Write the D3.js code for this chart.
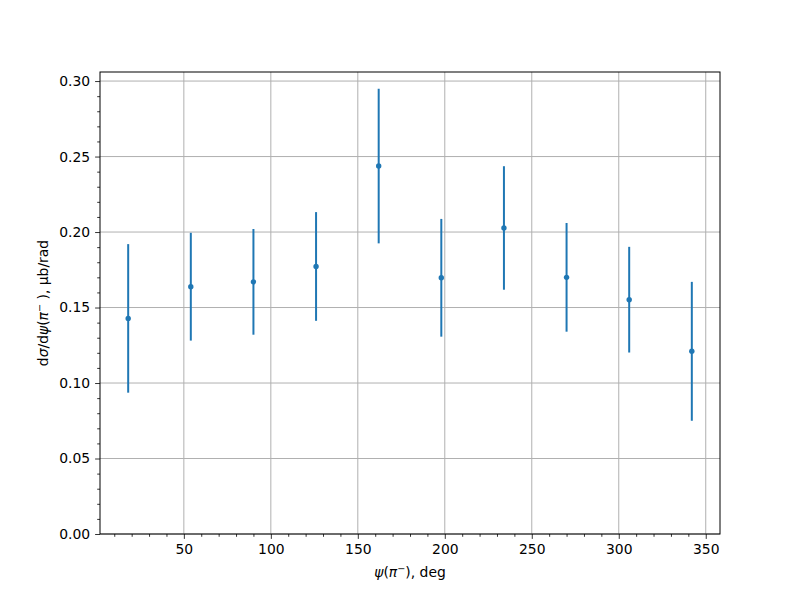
<!DOCTYPE html>
<html><head><meta charset="utf-8">
<script src="https://cdn.jsdelivr.net/npm/d3@7"></script>
<style>body{margin:0;background:#fff}svg{font-family:"DejaVu Sans",sans-serif}</style>
</head><body>
<svg id="c" width="800" height="600"></svg>
<script>
const angles = [18, 54, 90, 126, 162, 198, 234, 270, 306, 342];
const values = [0.1428, 0.1638, 0.1670, 0.1772, 0.2437, 0.1697, 0.2027, 0.1700, 0.1552, 0.1210];
const errors = [0.0492, 0.0357, 0.0350, 0.0360, 0.0512, 0.0390, 0.0409, 0.0360, 0.0350, 0.0460];
const xTicks = [50, 100, 150, 200, 250, 300, 350];
const yTicks = [0, 0.05, 0.10, 0.15, 0.20, 0.25, 0.30];

const svg = d3.select("#c");
const L = 100, R = 720, T = 72, B = 534;
const x = d3.scaleLinear().domain([1.8, 358.2]).range([L, R]);
const y = d3.scaleLinear().domain([0, 0.306]).range([B, T]);
const col = "#1f77b4";

// grid
svg.append("g").selectAll("line").data(xTicks).join("line")
  .attr("x1", d => x(d)).attr("x2", d => x(d)).attr("y1", T).attr("y2", B)
  .attr("stroke", "#b0b0b0").attr("stroke-width", 1);
svg.append("g").selectAll("line").data(yTicks).join("line")
  .attr("y1", d => y(d)).attr("y2", d => y(d)).attr("x1", L).attr("x2", R)
  .attr("stroke", "#b0b0b0").attr("stroke-width", 1);

// error bars
const pts = angles.map((a, i) => ({a, v: values[i], e: errors[i]}));
svg.append("g").selectAll("line").data(pts).join("line")
  .attr("x1", d => x(d.a)).attr("x2", d => x(d.a))
  .attr("y1", d => y(d.v - d.e)).attr("y2", d => y(d.v + d.e))
  .attr("stroke", col).attr("stroke-width", 2);
svg.append("g").selectAll("circle").data(pts).join("circle")
  .attr("cx", d => x(d.a)).attr("cy", d => y(d.v)).attr("r", 2.7).attr("fill", col);

// axes
const xMinor = d3.range(10, 360, 10).filter(v => v % 50 !== 0);
const yMinor = d3.range(0, 31).map(v => v / 100).filter((v, i) => i % 5 !== 0);
const xa = svg.append("g").attr("transform", `translate(0,${B})`);
xa.call(d3.axisBottom(x).tickValues(xMinor).tickSize(2.8).tickFormat(""))
  .call(g => g.select(".domain").remove());
xa.append("g").call(d3.axisBottom(x).tickValues(xTicks).tickSize(4.9).tickPadding(4.9).tickFormat(d3.format("d")))
  .call(g => g.select(".domain").remove());
const ya = svg.append("g").attr("transform", `translate(${L},0)`);
ya.call(d3.axisLeft(y).tickValues(yMinor).tickSize(2.8).tickFormat(""))
  .call(g => g.select(".domain").remove());
ya.append("g").call(d3.axisLeft(y).tickValues(yTicks).tickSize(4.9).tickPadding(4.9).tickFormat(d3.format(".2f")))
  .call(g => g.select(".domain").remove());
svg.selectAll(".tick line").attr("stroke", "#000").attr("stroke-width", 0.8);
svg.selectAll(".tick text").attr("font-size", 13.9).attr("fill", "#000").attr("font-family", "DejaVu Sans");

svg.append("rect").attr("x", L).attr("y", T).attr("width", R - L).attr("height", B - T)
  .attr("fill", "none").attr("stroke", "#000").attr("stroke-width", 1);

// labels
const xl = svg.append("text").attr("x", (L + R) / 2).attr("y", 577).attr("text-anchor", "middle")
  .attr("font-size", 13.9);
xl.append("tspan").attr("font-style", "italic").text("ψ");
xl.append("tspan").text("(");
xl.append("tspan").attr("font-style", "italic").text("π");
xl.append("tspan").attr("font-size", 9.7).attr("dy", -5).text("−");
xl.append("tspan").attr("dy", 5).text("), deg");

const yl = svg.append("text").attr("transform", `translate(48,${(T + B) / 2}) rotate(-90)`)
  .attr("text-anchor", "middle").attr("font-size", 13.9);
yl.append("tspan").text("d");
yl.append("tspan").attr("font-style", "italic").text("σ");
yl.append("tspan").text("/d");
yl.append("tspan").attr("font-style", "italic").text("ψ");
yl.append("tspan").text("(");
yl.append("tspan").attr("font-style", "italic").text("π");
yl.append("tspan").attr("font-size", 9.7).attr("dy", -5).text("−");
yl.append("tspan").attr("dy", 5).text(" ), μb/rad");
</script>
</body></html>
